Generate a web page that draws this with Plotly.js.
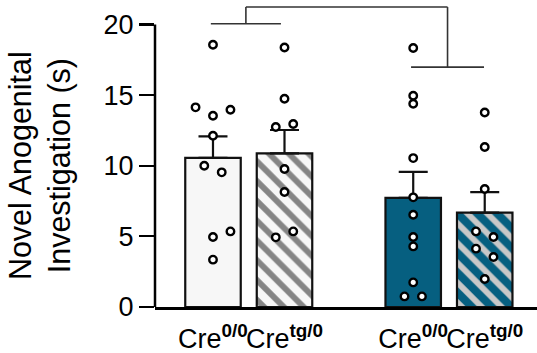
<!DOCTYPE html>
<html>
<head>
<meta charset="utf-8">
<script src="https://cdn.plot.ly/plotly-3.0.1.min.js"></script>
<style>html,body{margin:0;padding:0;background:#fff;}#chart{width:537px;height:353px;}</style>
</head>
<body>
<div id="chart"></div>
<script>
// ---- data ----
var groupLabels = ['Cre<sup><b>0/0</b></sup>', 'Cre<sup><b>tg/0</b></sup>', 'Cre<sup><b>0/0</b></sup>', 'Cre<sup><b>tg/0</b></sup>'];
var group1 = [18.56, 14.13, 13.54, 13.96, 12.12, 10.0, 9.53, 4.95, 5.35, 3.35];
var group2 = [18.37, 14.74, 12.74, 12.95, 9.77, 8.14, 4.93, 5.35];
var group3 = [18.33, 14.95, 14.39, 10.54, 7.76, 6.53, 4.95, 4.29, 1.74, 0.75, 0.75];
var group4 = [13.77, 11.32, 8.35, 5.35, 4.95, 4.13, 3.54, 1.98];
var yTicks = [0, 5, 10, 15, 20];

// ---- layout helpers (positions / styles, not data) ----
var xPos = [0, 1, 2.8, 3.8];
var jitter1 = [0, -2, 0, 2, 0, -1, 1, 0, 2, 0];
var jitter2 = [0, 0, -1, 1, 0, 0, -1, 1];
var jitter3 = [0, 0, 0, 0, 0, 0, 0, 0, 0, -1, 1];
var jitter4 = [0, 0, 0, -1, 1, -1, 1, 0];
var jitterStep = 0.122;

var groups = [group1, group2, group3, group4];
var jitters = [jitter1, jitter2, jitter3, jitter4];

function mean(a){ return a.reduce(function(s,v){return s+v;},0)/a.length; }
function sem(a){
  var m = mean(a);
  var ss = a.reduce(function(s,v){return s+(v-m)*(v-m);},0);
  return Math.sqrt(ss/(a.length-1))/Math.sqrt(a.length);
}
var means = groups.map(mean);
var sems = groups.map(sem);

var teal = '#065f80';
var light = '#f7f7f7';
var barStyles = [
  {bg: light, fg: light, shape: ''},
  {bg: light, fg: '#858585', shape: '\\'},
  {bg: teal, fg: teal, shape: ''},
  {bg: teal, fg: '#c8c8c8', shape: '\\'}
];

var traces = [];
groups.forEach(function(g, i){
  var st = barStyles[i];
  var m = {color: st.bg, line: {color: '#111', width: 2.2}};
  if (st.shape) {
    m.pattern = {shape: st.shape, fgcolor: st.fg, bgcolor: st.bg, fgopacity: 1, size: 14, solidity: 0.42, fillmode: 'replace'};
  }
  traces.push({
    type: 'bar', x: [xPos[i]], y: [means[i]], width: 0.776,
    marker: m,
    error_y: {type: 'data', symmetric: false, array: [sems[i]], arrayminus: [0], color: '#111', thickness: 2.2, width: 14.5},
    hoverinfo: 'skip', showlegend: false
  });
});
groups.forEach(function(g, i){
  traces.push({
    type: 'scatter', mode: 'markers',
    x: g.map(function(v, j){ return xPos[i] + jitters[i][j]*jitterStep; }),
    y: g,
    marker: {symbol: 'circle', size: 7.5, color: '#fff', line: {color: '#000', width: 2.4}},
    cliponaxis: false,
    hoverinfo: 'skip', showlegend: false
  });
});

// significance brackets
var yTop = 21.23, yLeft = 20.05, yRight = 16.98;
var lMid = (xPos[0] + xPos[1]) / 2 - 0.04;
var rMid = (xPos[2] + xPos[3]) / 2 - 0.02;
var bc = {color: '#333', width: 1.6};
var shapes = [
  {type:'line', xref:'paper', yref:'y', x0:0, x1:0, y0:0, y1:20, line:{color:'#000', width:2.5}},
  {type:'line', xref:'x', yref:'y', x0:xPos[0]-0.03, x1:xPos[1]-0.05, y0:yLeft, y1:yLeft, line:bc},
  {type:'line', xref:'x', yref:'y', x0:xPos[2]-0.03, x1:xPos[3]-0.01, y0:yRight, y1:yRight, line:bc},
  {type:'line', xref:'x', yref:'y', x0:lMid, x1:lMid, y0:yLeft, y1:yTop, line:bc},
  {type:'line', xref:'x', yref:'y', x0:rMid, x1:rMid, y0:yRight, y1:yTop, line:bc},
  {type:'line', xref:'x', yref:'y', x0:lMid, x1:rMid, y0:yTop, y1:yTop, line:bc}
];

var tickFont = {family: '"Liberation Sans Narrow", "Arial Narrow", "Liberation Sans", Arial, sans-serif', size: 27, color: '#000'};

var layout = {
  width: 537, height: 353,
  margin: {l: 155, r: 0, t: 0, b: 46, pad: 0},
  paper_bgcolor: '#fff', plot_bgcolor: '#fff',
  showlegend: false,
  barmode: 'overlay',
  xaxis: {
    range: [-0.811, 4.531], tickvals: xPos, ticktext: groupLabels, tickangle: 0,
    showline: true, linecolor: '#000', linewidth: 2.5,
    ticks: 'outside', ticklen: 6, tickcolor: 'rgba(0,0,0,0)',
    showgrid: false, zeroline: false, tickfont: tickFont, fixedrange: true,
    automargin: false
  },
  yaxis: {
    range: [0, 21.73], tickvals: yTicks, ticktext: yTicks.map(String),
    showline: false, ticks: 'outside', ticklen: 15, tickwidth: 2.2, tickcolor: '#000',
    showgrid: false, zeroline: false, tickfont: tickFont, fixedrange: true,
    automargin: false
  },
  shapes: shapes,
  annotations: [{
    text: 'Novel Anogenital<br>Investigation (s)',
    xref: 'paper', yref: 'y', x: -0.3, y: 10, xanchor: 'center', yanchor: 'middle',
    textangle: -90, showarrow: false,
    font: {family: '"Liberation Sans", Arial, sans-serif', size: 30.5, color: '#000'}
  }]
};

Plotly.newPlot('chart', traces, layout, {displayModeBar: false, staticPlot: true});
</script>
</body>
</html>
